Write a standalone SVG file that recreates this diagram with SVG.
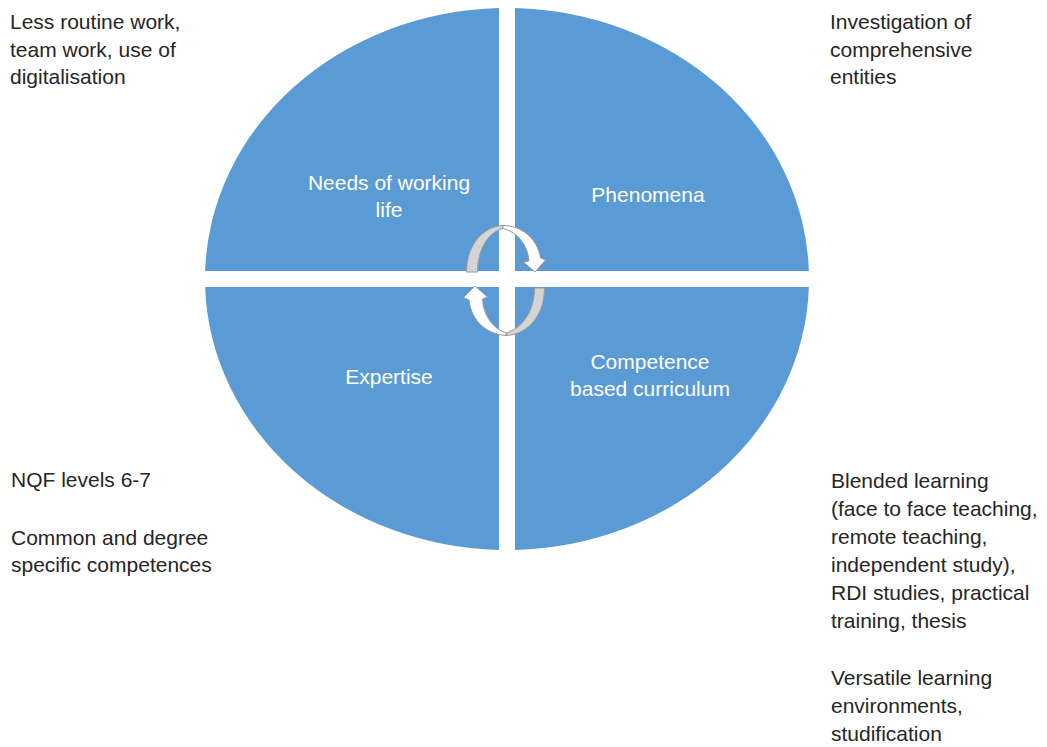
<svg xmlns="http://www.w3.org/2000/svg" width="1047" height="747" viewBox="0 0 1047 747">
<style>
.q{fill:#5B9BD5;}
.lbl{font-family:"Liberation Sans",Arial,sans-serif;font-size:21px;fill:#ffffff;text-anchor:middle;}
.note{font-family:"Liberation Sans",Arial,sans-serif;font-size:21px;fill:#262626;}
.arw{fill:#ffffff;stroke:#9a9a9a;stroke-width:1;stroke-linejoin:round;}
.arg{fill:#d4d4d4;stroke:#9a9a9a;stroke-width:1;stroke-linejoin:round;}
</style>
<rect width="1047" height="747" fill="#ffffff"/>
<g id="needs-of-working-life">
<path class="q" d="M499,271 L205.13,271 A302,271 0 0 1 499,8.1 Z"/>
<text class="lbl" x="389" y="190">Needs of working</text>
<text class="lbl" x="389" y="217">life</text>
</g>
<g id="phenomena">
<path class="q" d="M515,271 L515,8.1 A302,271 0 0 1 808.87,271 Z"/>
<text class="lbl" x="648" y="202">Phenomena</text>
</g>
<g id="competence-based-curriculum">
<path class="q" d="M515,287 L808.87,287 A302,271 0 0 1 515,549.9 Z"/>
<text class="lbl" x="650" y="369">Competence</text>
<text class="lbl" x="650" y="396">based curriculum</text>
</g>
<g id="expertise">
<path class="q" d="M499,287 L499,549.9 A302,271 0 0 1 205.13,287 Z"/>
<text class="lbl" x="389" y="384">Expertise</text>
</g>
<g id="connectors">
<path class="arg" d="M503,225.5 C483,226.5 466.5,245 466.5,272 L477.5,272 C477.5,250 488,232 503,228.5 Z"/>
<path class="arw" d="M503,225.5 C521,225.5 537.5,238 540.5,258 L545.5,260 L535,272 L523.5,262 L529,261 C528,246 518,232 503,228.5 Z"/>
<path class="arg" d="M544.5,288 C544.5,315 528,334.5 506,335.5 L506,333 C522,328 534.5,312 534.5,288 Z"/>
<path class="arw" d="M506,335.5 C488,334.5 471.5,322 469,300 L463.5,297.5 L475,286 L487.5,297 L482.5,299 C483.5,315 492,328 506,333 Z"/>
</g>
<g id="note-working-life">
<text class="note" x="10" y="29">Less routine work,</text>
<text class="note" x="10" y="56.5">team work, use of</text>
<text class="note" x="10" y="84">digitalisation</text>
</g>
<g id="note-phenomena">
<text class="note" x="830" y="29">Investigation of</text>
<text class="note" x="830" y="56.5">comprehensive</text>
<text class="note" x="830" y="84">entities</text>
</g>
<g id="note-expertise">
<text class="note" x="11" y="487">NQF levels 6-7</text>
<text class="note" x="11" y="544.5">Common and degree</text>
<text class="note" x="11" y="572">specific competences</text>
</g>
<g id="note-curriculum">
<text class="note" x="831" y="487.5">Blended learning</text>
<text class="note" x="831" y="515.5">(face to face teaching,</text>
<text class="note" x="831" y="543.5">remote teaching,</text>
<text class="note" x="831" y="571.5">independent study),</text>
<text class="note" x="831" y="599.5">RDI studies, practical</text>
<text class="note" x="831" y="627.5">training, thesis</text>
<text class="note" x="831" y="685">Versatile learning</text>
<text class="note" x="831" y="713">environments,</text>
<text class="note" x="831" y="741">studification</text>
</g>
</svg>
